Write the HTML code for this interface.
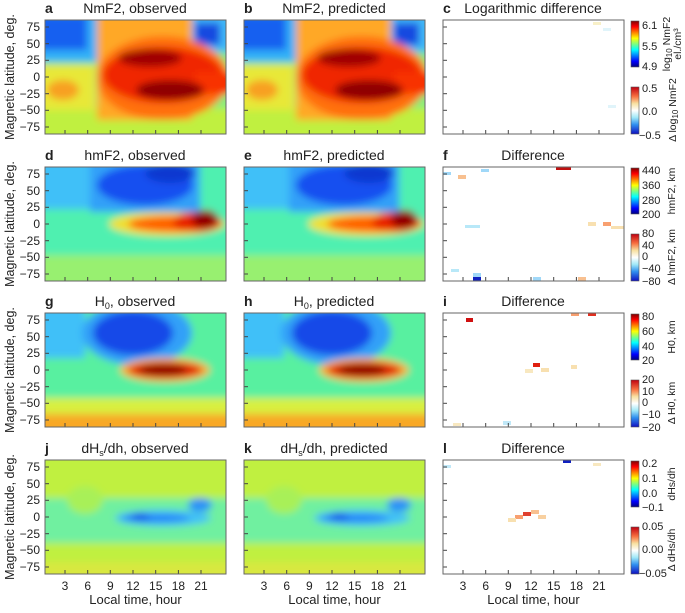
<!DOCTYPE html>
<html><head><meta charset="utf-8"><style>
body{margin:0;background:#fff;}
svg{font-family:"Liberation Sans",sans-serif;fill:#222;}
</style></head><body>
<svg width="685" height="608" xmlns="http://www.w3.org/2000/svg" xmlns:xlink="http://www.w3.org/1999/xlink">
<defs>
<filter id="bs" x="-20%" y="-20%" width="140%" height="140%"><feGaussianBlur stdDeviation="3.8"/></filter>
<clipPath id="cp"><rect x="0" y="0" width="181" height="114"/></clipPath>
<linearGradient id="jet" x1="0" y1="0" x2="0" y2="1">
<stop offset="0" stop-color="#800000"/><stop offset="0.125" stop-color="#ff0000"/><stop offset="0.375" stop-color="#ffff00"/><stop offset="0.625" stop-color="#00ffff"/><stop offset="0.875" stop-color="#0000ff"/><stop offset="1" stop-color="#000080"/>
</linearGradient>
<linearGradient id="dv" x1="0" y1="0" x2="0" y2="1">
<stop offset="0" stop-color="#c00010"/><stop offset="0.2" stop-color="#f87040"/><stop offset="0.35" stop-color="#f8e0a0"/><stop offset="0.5" stop-color="#ffffff"/><stop offset="0.65" stop-color="#a0e8f8"/><stop offset="0.8" stop-color="#3090f0"/><stop offset="1" stop-color="#1010c0"/>
</linearGradient>

<g id="nm">
<rect x="-10" y="-10" width="201" height="134" fill="#80f080"/>
<rect x="-10" y="88" width="201" height="40" fill="#c0f040"/>
<rect x="-10" y="45" width="60" height="45" fill="#e8e838"/>
<ellipse cx="18" cy="70" rx="16" ry="10" fill="#f8a020"/>
<rect x="-10" y="-10" width="62" height="52" fill="#30b0f8"/>
<rect x="-10" y="-5" width="52" height="35" fill="#1860f0"/>
<rect x="140" y="-10" width="50" height="42" fill="#40b8f8"/>
<rect x="150" y="3" width="25" height="22" fill="#1848e0"/>
<rect x="52" y="-10" width="95" height="110" fill="#ffa828"/>
<ellipse cx="118" cy="58" rx="66" ry="42" fill="#ff7010"/>
<ellipse cx="118" cy="55" rx="60" ry="28" fill="#f02800"/>
<rect x="150" y="52" width="40" height="22" fill="#f83000"/>
<ellipse cx="105" cy="38" rx="32" ry="9" fill="#a00000"/>
<ellipse cx="125" cy="70" rx="34" ry="10" fill="#900000"/>
</g>

<g id="hm">
<rect x="-10" y="-10" width="201" height="134" fill="#50f0b0"/>
<rect x="-10" y="88" width="201" height="40" fill="#98f070"/>
<rect x="-10" y="-10" width="55" height="52" fill="#40c0f8"/>
<rect x="45" y="-10" width="110" height="55" fill="#30a0f8"/>
<ellipse cx="100" cy="18" rx="48" ry="20" fill="#1850f0"/>
<ellipse cx="125" cy="6" rx="25" ry="10" fill="#1038d0"/>
<ellipse cx="122" cy="57" rx="58" ry="12" fill="#f0e030"/>
<ellipse cx="130" cy="57" rx="47" ry="8" fill="#ff6000"/>
<ellipse cx="152" cy="55" rx="24" ry="10" fill="#e82000"/>
<ellipse cx="160" cy="52" rx="13" ry="9" fill="#900000"/>
</g>

<g id="h0">
<rect x="-10" y="-10" width="201" height="134" fill="#58f0a0"/>
<rect x="-10" y="85" width="201" height="16" fill="#d8f040"/>
<rect x="-10" y="101" width="201" height="25" fill="#f8a828"/>
<rect x="-10" y="-10" width="50" height="55" fill="#40c0f8"/>
<ellipse cx="92" cy="20" rx="55" ry="32" fill="#30a0f8"/>
<ellipse cx="88" cy="20" rx="40" ry="22" fill="#1848e8"/>
<ellipse cx="120" cy="57" rx="45" ry="12" fill="#f8b030"/>
<ellipse cx="120" cy="57" rx="37" ry="8" fill="#e01800"/>
<ellipse cx="118" cy="57" rx="24" ry="6" fill="#900000"/>
</g>

<g id="dh">
<rect x="-10" y="-10" width="201" height="134" fill="#c0f040"/>
<rect x="-10" y="38" width="201" height="45" fill="#70f0a0"/>
<ellipse cx="40" cy="40" rx="18" ry="14" fill="#a8f058"/>
<rect x="-10" y="102" width="201" height="25" fill="#d8e840"/>
<ellipse cx="118" cy="58" rx="48" ry="8" fill="#40c0f8"/>
<ellipse cx="110" cy="58" rx="35" ry="4" fill="#2080f8"/>
<ellipse cx="95" cy="57" rx="10" ry="4" fill="#1050e8"/>
<ellipse cx="155" cy="45" rx="12" ry="7" fill="#2890f8"/>
</g>

<g id="tk" stroke="#444" stroke-width="1">
<line x1="0" x2="4" y1="7" y2="7"/><line x1="0" x2="4" y1="23.7" y2="23.7"/><line x1="0" x2="4" y1="40.3" y2="40.3"/><line x1="0" x2="4" y1="57" y2="57"/><line x1="0" x2="4" y1="73.7" y2="73.7"/><line x1="0" x2="4" y1="90.3" y2="90.3"/><line x1="0" x2="4" y1="107" y2="107"/>
<line x1="20" x2="20" y1="114" y2="110"/><line x1="42.7" x2="42.7" y1="114" y2="110"/><line x1="65.3" x2="65.3" y1="114" y2="110"/><line x1="88" x2="88" y1="114" y2="110"/><line x1="110.7" x2="110.7" y1="114" y2="110"/><line x1="133.4" x2="133.4" y1="114" y2="110"/><line x1="156" x2="156" y1="114" y2="110"/>
<rect x="0" y="0" width="181" height="114" fill="none" stroke="#666"/>
</g>
<g id="yl" font-size="12" text-anchor="end">
<text x="-5" y="11">75</text><text x="-5" y="28">50</text><text x="-5" y="44">25</text><text x="-5" y="61">0</text><text x="-5" y="78">−25</text><text x="-5" y="94">−50</text><text x="-5" y="111">−75</text>
</g>
<g id="xl" font-size="12" text-anchor="middle">
<text x="20" y="130">3</text><text x="42.7" y="130">6</text><text x="65.3" y="130">9</text><text x="88" y="130">12</text><text x="110.7" y="130">15</text><text x="133.4" y="130">18</text><text x="156" y="130">21</text>
<text x="90.5" y="144" font-size="13">Local time, hour</text>
</g>
<g id="cb">
<rect x="0" y="1" width="8" height="46" fill="url(#jet)" stroke="#555" stroke-width="0.6"/>
<rect x="0" y="67" width="8" height="47" fill="url(#dv)" stroke="#555" stroke-width="0.6"/>
</g>
</defs>

<!-- Row 1 -->
<g transform="translate(45,20)"><g clip-path="url(#cp)"><use xlink:href="#nm" filter="url(#bs)"/></g><use xlink:href="#tk"/><use xlink:href="#yl"/></g>
<g transform="translate(244,20)"><g clip-path="url(#cp)"><use xlink:href="#nm" filter="url(#bs)"/></g><use xlink:href="#tk"/></g>
<g transform="translate(443,20)"><g clip-path="url(#cp)">
<rect x="150" y="2" width="8" height="3" fill="#f8f0c8"/><rect x="160" y="8" width="8" height="3" fill="#e0f4fa"/><rect x="165" y="85" width="8" height="3" fill="#e0f4fa"/>
</g><use xlink:href="#tk"/></g>
<!-- Row 2 -->
<g transform="translate(45,167)"><g clip-path="url(#cp)"><use xlink:href="#hm" filter="url(#bs)"/></g><use xlink:href="#tk"/><use xlink:href="#yl"/></g>
<g transform="translate(244,167)"><g clip-path="url(#cp)"><use xlink:href="#hm" filter="url(#bs)"/></g><use xlink:href="#tk"/></g>
<g transform="translate(443,167)"><g clip-path="url(#cp)">
<rect x="113" y="0" width="15" height="3" fill="#c01010"/><rect x="15" y="8" width="8" height="4" fill="#f8c090"/><rect x="0" y="5" width="8" height="3" fill="#a0d8f8"/><rect x="38" y="2" width="8" height="3" fill="#a0d8f8"/>
<rect x="160" y="55" width="8" height="4" fill="#f8a070"/><rect x="168" y="59" width="15" height="3" fill="#f8e0b0"/><rect x="145" y="55" width="8" height="4" fill="#f8e0b0"/><rect x="22" y="58" width="15" height="3" fill="#b8e8f8"/>
<rect x="30" y="110" width="8" height="4" fill="#1020c0"/><rect x="30" y="106" width="8" height="4" fill="#a0d8f8"/><rect x="90" y="110" width="8" height="4" fill="#a0d8f8"/><rect x="135" y="110" width="8" height="4" fill="#f8c090"/><rect x="8" y="102" width="8" height="3" fill="#b8e8f8"/>
</g><use xlink:href="#tk"/></g>
<!-- Row 3 -->
<g transform="translate(45,313)"><g clip-path="url(#cp)"><use xlink:href="#h0" filter="url(#bs)"/></g><use xlink:href="#tk"/><use xlink:href="#yl"/></g>
<g transform="translate(244,313)"><g clip-path="url(#cp)"><use xlink:href="#h0" filter="url(#bs)"/></g><use xlink:href="#tk"/></g>
<g transform="translate(443,313)"><g clip-path="url(#cp)">
<rect x="23" y="5" width="7" height="4" fill="#d01010"/><rect x="90" y="50" width="7" height="4" fill="#e02010"/><rect x="128" y="0" width="8" height="3" fill="#f8a070"/><rect x="145" y="0" width="8" height="3" fill="#e03020"/>
<rect x="98" y="55" width="8" height="4" fill="#f8e0b0"/><rect x="82" y="56" width="8" height="4" fill="#f8e8c0"/><rect x="128" y="52" width="6" height="4" fill="#f8e0b0"/><rect x="60" y="108" width="8" height="4" fill="#c0e8f8"/><rect x="10" y="110" width="8" height="3" fill="#f8e8c0"/>
</g><use xlink:href="#tk"/></g>
<!-- Row 4 -->
<g transform="translate(45,460)"><g clip-path="url(#cp)"><use xlink:href="#dh" filter="url(#bs)"/></g><use xlink:href="#tk"/><use xlink:href="#yl"/><use xlink:href="#xl"/></g>
<g transform="translate(244,460)"><g clip-path="url(#cp)"><use xlink:href="#dh" filter="url(#bs)"/></g><use xlink:href="#tk"/><use xlink:href="#xl"/></g>
<g transform="translate(443,460)"><g clip-path="url(#cp)">
<rect x="120" y="0" width="8" height="3" fill="#1020c0"/><rect x="80" y="52" width="8" height="4" fill="#e04030"/><rect x="72" y="55" width="8" height="4" fill="#f8a070"/><rect x="88" y="50" width="8" height="4" fill="#f8c090"/><rect x="95" y="55" width="8" height="4" fill="#f8d0a0"/><rect x="65" y="58" width="8" height="4" fill="#f8e0b0"/><rect x="0" y="5" width="8" height="3" fill="#c0e8f8"/><rect x="150" y="3" width="8" height="3" fill="#f8e8c0"/>
</g><use xlink:href="#tk"/><use xlink:href="#xl"/></g>

<!-- Titles -->
<g font-size="14">
<text x="45" y="13" font-weight="bold">a</text><text x="135" y="13" text-anchor="middle">NmF2, observed</text>
<text x="244" y="13" font-weight="bold">b</text><text x="334" y="13" text-anchor="middle">NmF2, predicted</text>
<text x="443" y="13" font-weight="bold">c</text><text x="533" y="13" text-anchor="middle">Logarithmic difference</text>
<text x="45" y="160" font-weight="bold">d</text><text x="135" y="160" text-anchor="middle">hmF2, observed</text>
<text x="244" y="160" font-weight="bold">e</text><text x="334" y="160" text-anchor="middle">hmF2, predicted</text>
<text x="443" y="160" font-weight="bold">f</text><text x="533" y="160" text-anchor="middle">Difference</text>
<text x="45" y="306" font-weight="bold">g</text><text x="135" y="306" text-anchor="middle">H<tspan font-size="9" dy="3">0</tspan><tspan dy="-3">, observed</tspan></text>
<text x="244" y="306" font-weight="bold">h</text><text x="334" y="306" text-anchor="middle">H<tspan font-size="9" dy="3">0</tspan><tspan dy="-3">, predicted</tspan></text>
<text x="443" y="306" font-weight="bold">i</text><text x="533" y="306" text-anchor="middle">Difference</text>
<text x="45" y="453" font-weight="bold">j</text><text x="135" y="453" text-anchor="middle">dH<tspan font-size="9" dy="3">s</tspan><tspan dy="-3">/dh, observed</tspan></text>
<text x="244" y="453" font-weight="bold">k</text><text x="334" y="453" text-anchor="middle">dH<tspan font-size="9" dy="3">s</tspan><tspan dy="-3">/dh, predicted</tspan></text>
<text x="443" y="453" font-weight="bold">l</text><text x="533" y="453" text-anchor="middle">Difference</text>
</g>
<g font-size="12.5" text-anchor="middle">
<text transform="translate(14,77) rotate(-90)">Magnetic latitude, deg.</text>
<text transform="translate(14,224) rotate(-90)">Magnetic latitude, deg.</text>
<text transform="translate(14,370) rotate(-90)">Magnetic latitude, deg.</text>
<text transform="translate(14,517) rotate(-90)">Magnetic latitude, deg.</text>
</g>

<!-- Colorbars -->
<use xlink:href="#cb" x="631" y="20"/><use xlink:href="#cb" x="631" y="167"/><use xlink:href="#cb" x="631" y="313"/><use xlink:href="#cb" x="631" y="460"/>
<g font-size="11">
<text x="642" y="29">6.1</text><text x="642" y="50">5.5</text><text x="642" y="70">4.9</text>
<text x="642" y="92">0.5</text><text x="642" y="115">0.0</text><text x="639" y="139">−0.5</text>
<text x="642" y="174">440</text><text x="642" y="189">360</text><text x="642" y="204">280</text><text x="642" y="218">200</text>
<text x="642" y="237">80</text><text x="642" y="249">40</text><text x="642" y="260">0</text><text x="642" y="272">−40</text><text x="642" y="285">−80</text>
<text x="642" y="320">80</text><text x="642" y="335">60</text><text x="642" y="350">40</text><text x="642" y="364">20</text>
<text x="642" y="383">20</text><text x="642" y="395">10</text><text x="642" y="406">0</text><text x="642" y="418">−10</text><text x="642" y="431">−20</text>
<text x="642" y="467">0.2</text><text x="642" y="482">0.1</text><text x="642" y="497">0.0</text><text x="642" y="511">−0.1</text>
<text x="642" y="530">0.05</text><text x="642" y="553">0.00</text><text x="639" y="577">−0.05</text>
</g>
<g font-size="10.5" text-anchor="middle">
<text transform="translate(670,44) rotate(-90)">log<tspan font-size="8" dy="2">10</tspan><tspan dy="-2"> NmF2</tspan></text>
<text transform="translate(681,44) rotate(-90)">el./cm³</text>
<text transform="translate(676,110) rotate(-90)">Δ log<tspan font-size="8" dy="2">10</tspan><tspan dy="-2"> NmF2</tspan></text>
<text transform="translate(675,191) rotate(-90)">hmF2, km</text>
<text transform="translate(675,257) rotate(-90)">Δ hmF2, km</text>
<text transform="translate(675,337) rotate(-90)">H0, km</text>
<text transform="translate(675,403) rotate(-90)">Δ H0, km</text>
<text transform="translate(675,484) rotate(-90)">dHs/dh</text>
<text transform="translate(675,550) rotate(-90)">Δ dHs/dh</text>
</g>
</svg>
</body></html>
